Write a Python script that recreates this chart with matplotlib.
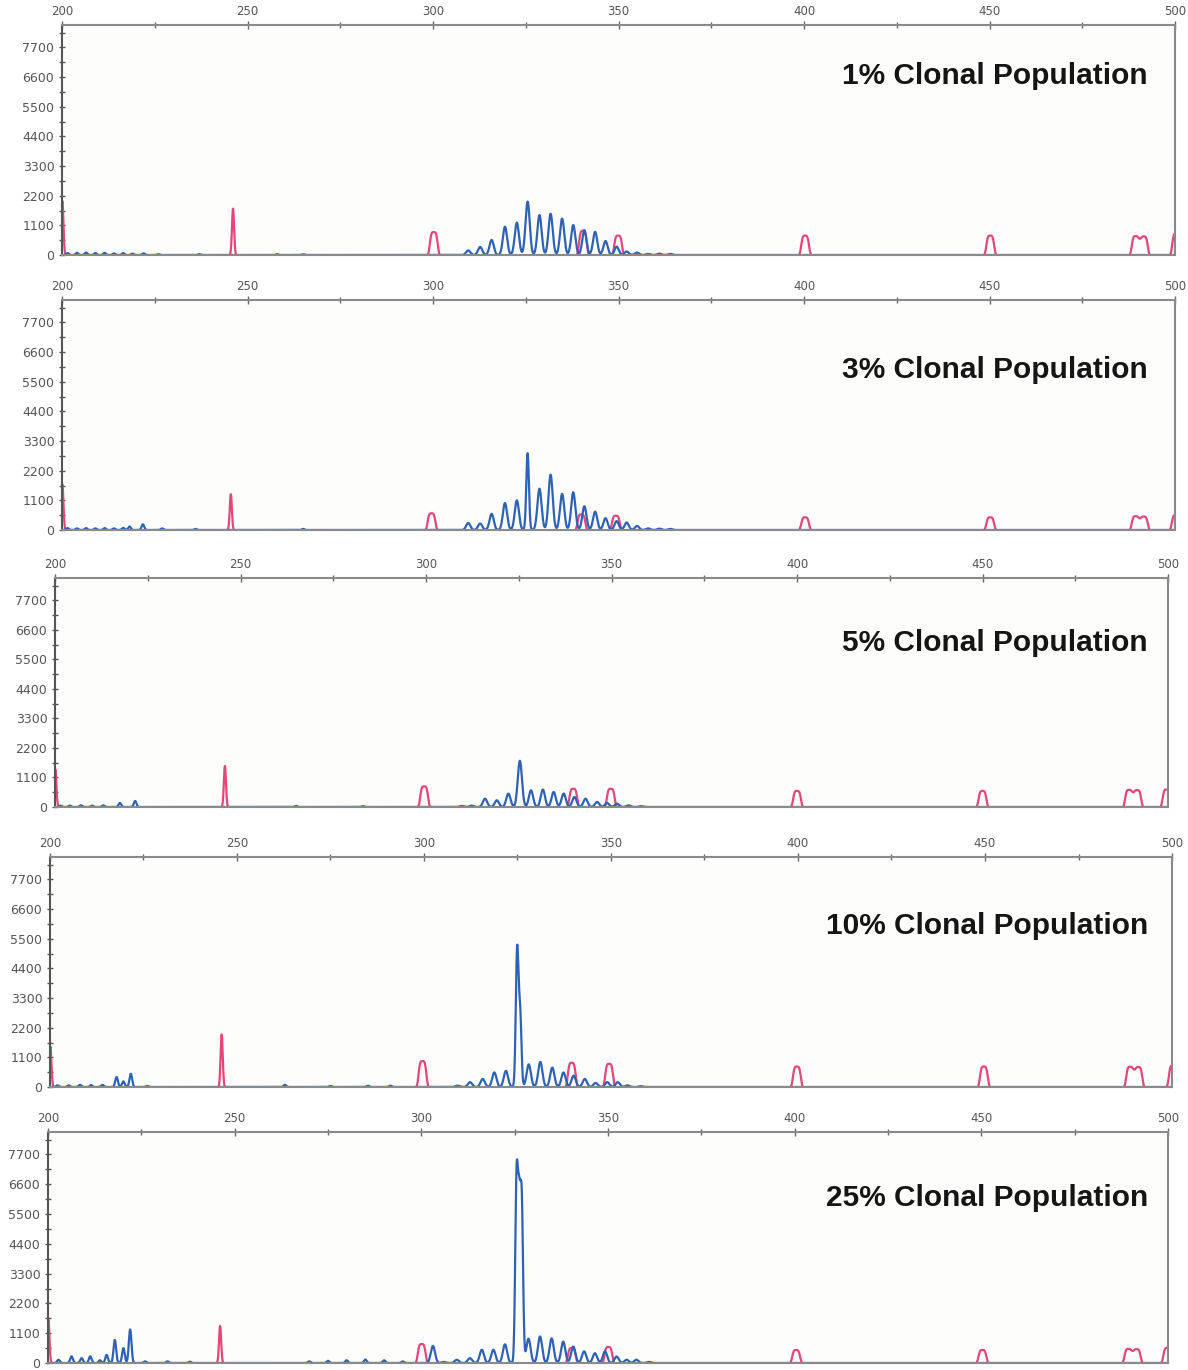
import numpy as np
import matplotlib.pyplot as plt
from matplotlib.ticker import MultipleLocator

titles = ['1% Clonal Population', '3% Clonal Population', '5% Clonal Population',
          '10% Clonal Population', '25% Clonal Population']

# peak positions (bp) and heights (RFU)
blue_pos_1 = [201.5, 204, 206.5, 209, 211.5, 214, 216.5, 219, 222, 226, 237, 258, 265,
              309.5, 312.7, 315.8, 319.4, 322.6, 325.5, 328.7, 331.7, 334.8, 337.8,
              340.8, 343.7, 346.5, 349.5, 352.2, 355, 358, 361, 364]
blue_h_1 = [70, 80, 90, 70, 80, 60, 70, 50, 60, 30, 30, 30, 25,
            170, 300, 560, 1050, 1200, 1980, 1480, 1530, 1350, 1110,
            920, 860, 520, 310, 130, 90, 40, 50, 40]
red_pos_1 = [200.1, 246.1, 300.2, 340.4, 349.9, 400.3, 450.2, 489.4, 491.6, 500.3]
red_h_1 = [2000, 1720, 850, 900, 720, 720, 720, 700, 690, 800]

blue_pos_2 = [201.5, 204, 206.5, 209, 211.5, 214, 216.5, 218.2, 221.8, 227, 236, 265,
              309.5, 312.7, 315.8, 319.4, 322.6, 325.5, 328.7, 331.7, 334.8, 337.8,
              340.8, 343.7, 346.5, 349.5, 352.2, 355, 358, 361, 364]
blue_h_2 = [70, 60, 70, 60, 70, 60, 80, 130, 210, 60, 40, 40,
            260, 240, 600, 1000, 1100, 2850, 1530, 2050, 1340, 1400,
            880, 680, 440, 330, 280, 150, 60, 50, 40]
red_pos_2 = [200.1, 245.5, 299.6, 340.0, 349.3, 400.3, 450.2, 489.4, 491.6, 500.2]
red_h_2 = [1700, 1330, 620, 580, 530, 470, 470, 510, 500, 560]

blue_pos_3 = [201.5, 204, 207, 210, 213, 217.5, 221.6, 265, 283,
              309.6, 312.3, 315.9, 319.1, 322.2, 325.3, 328.3, 331.5, 334.4, 337.1,
              340.0, 343.0, 346.1, 348.8, 351.5, 354.6, 358]
blue_h_3 = [50, 50, 60, 50, 60, 150, 225, 40, 30,
            40, 50, 310, 250, 500, 1720, 620, 650, 560, 500,
            375, 310, 190, 150, 125, 60, 30]
red_pos_3 = [200.1, 245.8, 299.5, 339.7, 349.8, 400.0, 450.0, 489.5, 491.7, 499.6]
red_h_3 = [1400, 1530, 770, 680, 680, 600, 600, 640, 630, 650]

blue_pos_4 = [202, 205, 208, 211, 214, 217.8, 219.6, 221.6, 226, 262.8, 275, 285, 291,
              309, 312.3, 315.7, 318.8, 321.9, 324.9, 325.7, 328.0, 331.1, 334.3, 337.3,
              340.0, 343.0, 345.9, 349.0, 351.8, 354.4, 358]
blue_h_4 = [60, 60, 80, 70, 80, 370, 210, 490, 40, 80, 40, 50, 50,
            50, 180, 300, 540, 600, 5050, 2700, 840, 930, 720, 540,
            420, 300, 150, 180, 180, 60, 30]
red_pos_4 = [200.1, 245.9, 299.6, 339.5, 349.5, 399.7, 449.7, 488.8, 491.0, 500.2]
red_h_4 = [1500, 1950, 960, 900, 860, 760, 760, 750, 740, 800]

blue_pos_5 = [202.8, 206.3, 209, 211.3, 213.9, 215.7, 217.9, 220.2, 222, 226, 232, 238,
              270, 275, 280, 285, 290, 295, 303.1,
              306, 309.5, 313.0, 316.2, 319.3, 322.4, 325.5, 326.2, 326.9, 328.7, 331.8,
              334.9, 338.0, 340.7, 343.6, 346.5, 349.2, 352.3, 355, 357.6, 361]
blue_h_5 = [120, 245, 180, 245, 100, 300, 850, 550, 1240, 60, 60, 50,
            60, 80, 100, 130, 100, 60, 630,
            40, 120, 180, 490, 490, 690, 6520, 5200, 5670, 900, 980,
            910, 790, 610, 430, 360, 430, 240, 120, 120, 40]
red_pos_5 = [200.1, 246.1, 300.1, 340.3, 350.1, 400.4, 450.3, 489.4, 491.6, 499.8]
red_h_5 = [1600, 1370, 700, 550, 590, 480, 480, 520, 510, 560]

blue_pos = [blue_pos_1, blue_pos_2, blue_pos_3, blue_pos_4, blue_pos_5]
blue_h = [blue_h_1, blue_h_2, blue_h_3, blue_h_4, blue_h_5]
red_pos = [red_pos_1, red_pos_2, red_pos_3, red_pos_4, red_pos_5]
red_h = [red_h_1, red_h_2, red_h_3, red_h_4, red_h_5]

# panel boxes in pixels: left, top, right, bottom ; title centre y
boxes = [(62, 25, 1175, 255, 76), (62, 300, 1175, 530, 370), (55, 578, 1168, 807, 643),
         (50, 857, 1172, 1087, 926), (48, 1132, 1168, 1363, 1198)]

W, H = 1188, 1370
BLUE = '#2e62b4'
RED = '#e5467a'


def trace(xs, pos, hts, color):
    y = np.zeros_like(xs)
    for c, h in zip(pos, hts):
        if color == 'blue':
            w = 0.5 if c < 300 else (0.5 if h > 2500 else 0.8)
            y += h * np.exp(-((xs - c) / w) ** 2)
        else:
            if c < 250:
                y += h * np.exp(-((xs - c) / 0.4) ** 2)
            else:
                y += h * np.exp(-np.abs((xs - c) / 1.15) ** 4)
    return y


fig = plt.figure(figsize=(W / 100, H / 100), dpi=100)
fig.patch.set_facecolor('white')
xs = np.arange(199, 501, 0.04)

for i in range(5):
    l, t, r, b, ty = boxes[i]
    ax = fig.add_axes([l / W, 1 - b / H, (r - l) / W, (b - t) / H])
    yr = trace(xs, red_pos[i], red_h[i], 'red')
    yr = np.where(yr < 20, np.nan, yr)
    yb = trace(xs, blue_pos[i], blue_h[i], 'blue')
    ax.plot(xs, yr, color=RED, lw=1.6, zorder=2)
    ax.plot(xs, yb, color=BLUE, lw=1.6, zorder=3)
    ax.set_xlim(200, 500)
    ax.set_ylim(0, 8530)
    ax.xaxis.set_major_locator(MultipleLocator(50))
    ax.xaxis.set_minor_locator(MultipleLocator(25))
    ax.yaxis.set_major_locator(MultipleLocator(1100))
    ax.yaxis.set_minor_locator(MultipleLocator(550))
    ax.xaxis.tick_top()
    ax.tick_params(axis='x', which='both', top=True, bottom=False, direction='inout',
                   length=6, width=1, color='#666', labelsize=8.5, labelcolor='#555', pad=2)
    ax.tick_params(axis='x', which='minor', length=5)
    ax.tick_params(axis='y', which='both', direction='inout', length=5, width=1,
                   color='#555', labelsize=9, labelcolor='#555', pad=3)
    ax.tick_params(axis='y', which='minor', length=4)
    for s in ax.spines.values():
        s.set_color('#8a8a8a')
        s.set_linewidth(1.5)
        s.set_zorder(4)
    ax.spines['left'].set_color('#555')
    ax.set_facecolor('#fdfdfc')
    fig.text(1148 / W, 1 - ty / H, titles[i], ha='right', va='center', fontsize=21.5,
             fontweight='bold', family='Liberation Sans', color='#151515')

fig.savefig('out.png', dpi=100)
